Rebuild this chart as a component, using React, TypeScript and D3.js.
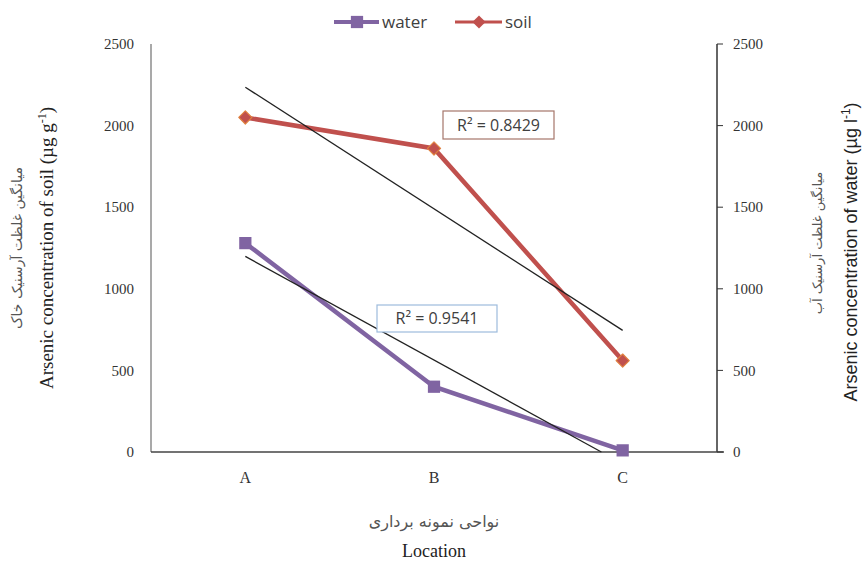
import React from "react";
import { scaleBand, scaleLinear, line, symbol, symbolSquare, symbolDiamond2 } from "d3";

// data
const locations = ["A", "B", "C"];
const soil = [2050, 1860, 560];
const water = [1280, 400, 10];
const yTicks = [0, 500, 1000, 1500, 2000, 2500];
const r2Soil = "R² = 0.8429";
const r2Water = "R² = 0.9541";

const W = 866,
  H = 565;
const margin = { top: 44, right: 149, bottom: 113, left: 151 };

const SOIL = "#c0504d";
const WATER = "#8064a2";
const serif = "'Liberation Serif', 'Times New Roman', serif";
const sans = "'Open Sans', 'Liberation Sans', sans-serif";
const arial = "'Liberation Sans', Arial, sans-serif";
const fa = "'DejaVu Sans', sans-serif";

// least squares fit over index 0..n-1
const fit = (vals: number[]) => {
  const n = vals.length;
  const xs = vals.map((_, i) => i);
  const mx = xs.reduce((a, b) => a + b, 0) / n;
  const my = vals.reduce((a, b) => a + b, 0) / n;
  let sxy = 0,
    sxx = 0;
  xs.forEach((x, i) => {
    sxy += (x - mx) * (vals[i] - my);
    sxx += (x - mx) * (x - mx);
  });
  const b = sxy / sxx;
  return (x: number) => my + b * (x - mx);
};

export default function App() {
  const x = scaleBand<string>()
    .domain(locations)
    .range([margin.left, W - margin.right]);
  const cx = (i: number) => (x(locations[i]) as number) + x.bandwidth() / 2;
  const y = scaleLinear().domain([0, 2500]).range([H - margin.bottom, margin.top]);

  const path = line<number>()
    .x((_, i) => cx(i))
    .y((d) => y(d));

  // trend lines, clipped at zero
  const trend = (vals: number[]) => {
    const f = fit(vals);
    const n = vals.length - 1;
    let x1 = n,
      v1 = f(n);
    if (v1 < 0) {
      x1 = (0 - f(0)) / (f(1) - f(0));
      v1 = 0;
    }
    const px0 = cx(0);
    const step = cx(1) - cx(0);
    return { x0: px0, y0: y(f(0)), x1: px0 + x1 * step, y1: y(v1) };
  };
  const tS = trend(soil);
  const tW = trend(water);

  const sq = symbol(symbolSquare, 150)();
  const dia = symbol(symbolDiamond2, 110)();
  const x0 = margin.left,
    x1 = W - margin.right,
    yb = H - margin.bottom;
  const midY = (margin.top + yb) / 2;
  const midX = (x0 + x1) / 2;

  return (
    <svg
      width={W}
      height={H}
      style={{ position: "absolute", left: 0, top: 0, background: "#fff" }}
    >
      {/* axes */}
      <line x1={x0} x2={x0} y1={margin.top} y2={yb} stroke="#8c8c8c" strokeWidth={1.5} />
      <line x1={x1} x2={x1} y1={margin.top} y2={yb} stroke="#333" strokeWidth={1.5} />
      <line x1={x0} x2={x1 + 7} y1={yb} y2={yb} stroke="#444" strokeWidth={1.5} />
      {yTicks.map((t) => (
        <g key={t}>
          <text x={134} y={y(t)} dy="0.35em" textAnchor="end" fontFamily={serif} fontSize={15} fill="#333">
            {t}
          </text>
          <line x1={x1} x2={x1 + 6} y1={y(t)} y2={y(t)} stroke="#333" strokeWidth={1} />
          <text x={733} y={y(t)} dy="0.35em" fontFamily={serif} fontSize={15} fill="#333">
            {t}
          </text>
        </g>
      ))}
      {locations.map((l, i) => (
        <text key={l} x={cx(i)} y={483} textAnchor="middle" fontFamily={serif} fontSize={16} fill="#333">
          {l}
        </text>
      ))}

      {/* axis titles */}
      <text transform={`translate(22,${midY}) rotate(-90)`} textAnchor="middle" fontFamily={fa} fontSize={14} fill="#555">
        میانگین غلظت آرسنیک خاک
      </text>
      <text
        transform={`translate(53,${midY}) rotate(-90)`}
        textAnchor="middle"
        fontFamily={serif}
        fontSize={19}
        fill="#222"
      >
        Arsenic concentration of soil (µg g<tspan dy="-7" fontSize={12}>-1</tspan>
        <tspan dy="7">)</tspan>
      </text>
      <text transform={`translate(822,${midY - 5}) rotate(-90)`} textAnchor="middle" fontFamily={fa} fontSize={13} fill="#555">
        میانگین غلظت آرسنیک آب
      </text>
      <text
        transform={`translate(857,${midY + 4}) rotate(-90)`}
        textAnchor="middle"
        fontFamily={arial}
        fontSize={18}
        fill="#222"
      >
        Arsenic concentration of water (µg l<tspan dy="-7" fontSize={12}>-1</tspan>
        <tspan dy="7">)</tspan>
      </text>
      <text x={midX} y={527} textAnchor="middle" fontFamily={fa} fontSize={16} fill="#555">
        نواحی نمونه برداری
      </text>
      <text x={midX} y={557} textAnchor="middle" fontFamily={serif} fontSize={18} fill="#222">
        Location
      </text>

      {/* series */}
      <path d={path(soil) as string} fill="none" stroke={SOIL} strokeWidth={4.5} />
      <path d={path(water) as string} fill="none" stroke={WATER} strokeWidth={4.5} />
      {soil.map((v, i) => (
        <path key={"s" + i} d={dia as string} transform={`translate(${cx(i)},${y(v)})`} fill={SOIL} stroke="#e0813f" strokeWidth={1.2} strokeLinejoin="round" />
      ))}
      {water.map((v, i) => (
        <path key={"w" + i} d={sq as string} transform={`translate(${cx(i)},${y(v)})`} fill={WATER} />
      ))}

      {/* trend lines */}
      <line x1={tS.x0} y1={tS.y0} x2={tS.x1} y2={tS.y1} stroke="#222" strokeWidth={1.3} />
      <line x1={tW.x0} y1={tW.y0} x2={tW.x1} y2={tW.y1} stroke="#222" strokeWidth={1.3} />

      {/* R² labels */}
      <rect x={443} y={111} width={111} height={28} fill="#fff" stroke="#a5766a" strokeWidth={1.2} />
      <text x={498.5} y={125} dy="0.36em" textAnchor="middle" fontFamily={sans} fontSize={16} fill="#404040">
        {r2Soil}
      </text>
      <rect x={377} y={305} width={120} height={27} fill="#fff" stroke="#9dbbdc" strokeWidth={1.2} />
      <text x={437} y={318.5} dy="0.36em" textAnchor="middle" fontFamily={sans} fontSize={16} fill="#404040">
        {r2Water}
      </text>

      {/* legend */}
      <g>
        <line x1={334} x2={379} y1={22} y2={22} stroke={WATER} strokeWidth={4} />
        <path d={sq as string} transform="translate(357,22)" fill={WATER} />
        <text x={382} y={22} dy="0.35em" fontFamily={sans} fontSize={17} fill="#404040">
          water
        </text>
        <line x1={455} x2={502} y1={22} y2={22} stroke={SOIL} strokeWidth={3} />
        <path d={dia as string} transform="translate(479,22)" fill={SOIL} />
        <text x={505} y={22} dy="0.35em" fontFamily={sans} fontSize={17} fill="#404040">
          soil
        </text>
      </g>
    </svg>
  );
}
